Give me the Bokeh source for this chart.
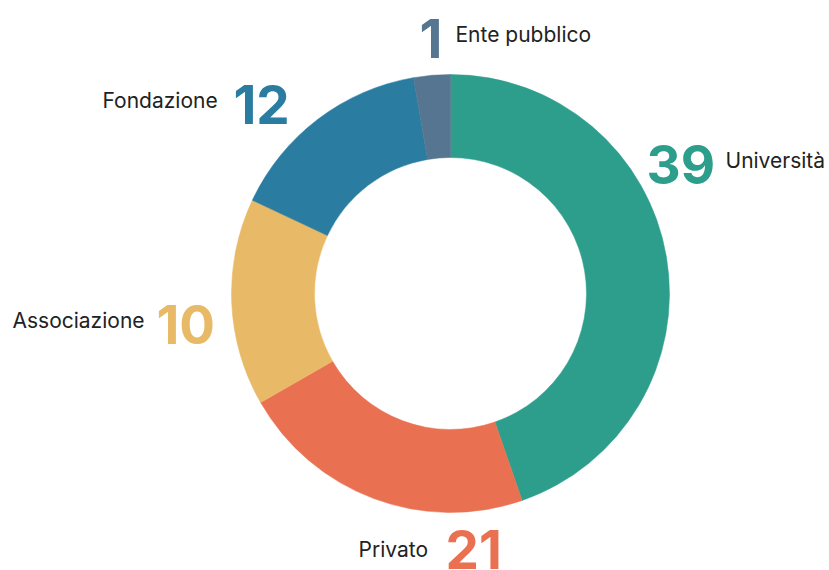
import numpy as np
from bokeh.plotting import figure
from bokeh.models import ColumnDataSource, Range1d
from bokeh.core.properties import value
from bokeh.embed import file_html
from bokeh.resources import INLINE

# ---- data ----
categories = ["Università", "Privato", "Associazione", "Fondazione", "Ente pubblico"]
counts = [39, 21, 10, 12, 1]
# slice sizes as drawn in the reference (share of the ring, %)
slice_share = [44.7, 22.0, 15.3, 15.3, 2.7]
colors = ["#2E9E8C", "#E97151", "#E8BA67", "#2A7CA1", "#557590"]

# ---- layout ----
W, H = 829, 570
cx, cy = 450, 277
r_out, r_in = 219, 136
name_shift = 8
num_shift = 19

share = np.array(slice_share, dtype=float)
frac = share / share.sum()
cum = np.concatenate([[0.0], np.cumsum(frac)])
start = np.pi / 2 - 2 * np.pi * cum[:-1]
end = np.pi / 2 - 2 * np.pi * cum[1:]

p = figure(width=W, height=H, output_backend="svg", toolbar_location=None,
           x_range=Range1d(0, W), y_range=Range1d(0, H), min_border=0)
p.axis.visible = False
p.grid.visible = False
p.outline_line_color = None
p.background_fill_color = "white"
p.border_fill_color = "white"

src = ColumnDataSource(dict(x=[cx] * len(categories), y=[cy] * len(categories),
                            start=start, end=end, color=colors))
p.annular_wedge(x="x", y="y", inner_radius=r_in, outer_radius=r_out,
                start_angle="start", end_angle="end", direction="clock",
                fill_color="color", line_color="color", line_width=0.5, source=src)

# label anchors (offsets from the ring centre, pixels): number, name
num_pos = {"Università": (196, 110), "Privato": (-5, -275), "Associazione": (-294, -50),
           "Fondazione": (-217, 170), "Ente pubblico": (-31, 236)}
name_pos = {"Università": (275, 125), "Privato": (-92, -264), "Associazione": (-438, -35),
            "Fondazione": (-348, 185), "Ente pubblico": (5, 251)}

nx, ny, nt, nc, lx, ly, lt = [], [], [], [], [], [], []
for c, n, col in zip(categories, counts, colors):
    dx, dy = num_pos[c]
    nx.append(cx + dx); ny.append(cy + dy + num_shift); nt.append(str(n)); nc.append(col)
    dx, dy = name_pos[c]
    lx.append(cx + dx); ly.append(cy + dy + name_shift); lt.append(c)

p.text(x=nx, y=ny, text=nt, text_color=nc, text_font=value("Inter"),
       text_font_size="53px", text_font_style="bold", text_align="left",
       text_baseline="alphabetic")
p.text(x=lx, y=ly, text=lt, text_color="#222222", text_font=value("Inter"),
       text_font_size="21px", text_align="left", text_baseline="alphabetic")

open("out.html", "w").write(file_html(p, INLINE))
